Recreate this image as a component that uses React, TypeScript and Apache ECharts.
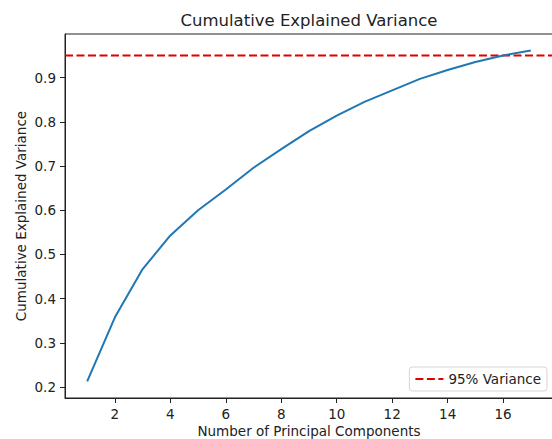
import React, { useEffect, useRef } from "react";
import * as echarts from "echarts";

const components = [1, 2, 3, 4, 5, 6, 7, 8, 9, 10, 11, 12, 13, 14, 15, 16, 17];
const cumulativeVariance = [0.213, 0.358, 0.467, 0.543, 0.6, 0.647, 0.696, 0.738, 0.779, 0.814, 0.845, 0.871, 0.897, 0.917, 0.935, 0.95, 0.961];
const threshold = 0.95;
const xTicks = [2, 4, 6, 8, 10, 12, 14, 16];
const yTicks = [0.2, 0.3, 0.4, 0.5, 0.6, 0.7, 0.8, 0.9];
const xRange = [0.2, 17.8];
const yRange = [0.1756, 0.9984];

const FONT = "DejaVu Sans";
const TXT = "#222";

export default function App() {
  const ref = useRef<HTMLDivElement>(null);
  useEffect(() => {
    if (!ref.current) return;
    const chart = echarts.init(ref.current, null, { renderer: "svg" });
    chart.setOption({
      animation: false,
      backgroundColor: "#fff",
      textStyle: { fontFamily: FONT, color: TXT },
      title: {
        text: "Cumulative Explained Variance",
        left: 309,
        textAlign: "center",
        top: 12,
        padding: 0,
        textStyle: { fontFamily: FONT, fontSize: 16.5, fontWeight: "normal", color: TXT },
      },
      grid: {
        left: 65,
        right: -1,
        top: 34,
        bottom: 41,
        containLabel: false,
        outerBoundsMode: "none",
        show: true,
        borderColor: "#222",
        borderWidth: 1,
        backgroundColor: "transparent",
      },
      legend: {
        data: ["95% Variance"],
        right: 5,
        bottom: 48,
        orient: "vertical",
        itemWidth: 28,
        itemHeight: 12,
        itemGap: 8,
        padding: [5, 6, 5, 5],
        borderColor: "#d6d6d6",
        borderWidth: 1,
        borderRadius: 3,
        backgroundColor: "#fff",
        itemStyle: { opacity: 0 },
        textStyle: { fontFamily: FONT, fontSize: 13.5, color: TXT },
      },
      xAxis: {
        type: "value",
        min: xRange[0],
        max: xRange[1],
        name: "Number of Principal Components",
        nameLocation: "middle",
        nameMoveOverlap: false,
        nameGap: 26,
        nameTextStyle: { fontFamily: FONT, fontSize: 13.5, color: TXT, lineHeight: 14 },
        splitLine: { show: false },
        axisLine: { show: true, lineStyle: { color: "#222" } },
        axisTick: { show: true, length: 5, customValues: xTicks, lineStyle: { color: "#222" } },
        axisLabel: { customValues: xTicks, fontFamily: FONT, fontSize: 13.5, color: TXT, margin: 9 },
      },
      yAxis: {
        type: "value",
        min: yRange[0],
        max: yRange[1],
        name: "Cumulative Explained Variance",
        nameLocation: "middle",
        nameMoveOverlap: false,
        nameGap: 37,
        nameTextStyle: { fontFamily: FONT, fontSize: 13.5, color: TXT, lineHeight: 14 },
        splitLine: { show: false },
        axisLine: { show: true, lineStyle: { color: "#222" } },
        axisTick: { show: true, length: 5, customValues: yTicks, lineStyle: { color: "#222" } },
        axisLabel: {
          customValues: yTicks,
          fontFamily: FONT,
          fontSize: 13.5,
          color: TXT,
          margin: 9,
          formatter: (v: number) => v.toFixed(1),
        },
      },
      series: [
        {
          name: "Cumulative",
          type: "line",
          data: components.map((c, i) => [c, cumulativeVariance[i]]),
          symbol: "none",
          lineStyle: { color: "#1f77b4", width: 2 },
          itemStyle: { color: "#1f77b4" },
          z: 3,
        },
        {
          name: "95% Variance",
          type: "line",
          data: [
            [xRange[0], threshold],
            [xRange[1], threshold],
          ],
          symbol: "none",
          lineStyle: { color: "#e00000", width: 2, type: [8, 3.5] },
          itemStyle: { color: "#e00000" },
          z: 2,
        },
      ],
    });
    return () => chart.dispose();
  }, []);
  return <div ref={ref} style={{ width: 552, height: 439, position: "absolute", left: 0, top: 0 }} />;
}
